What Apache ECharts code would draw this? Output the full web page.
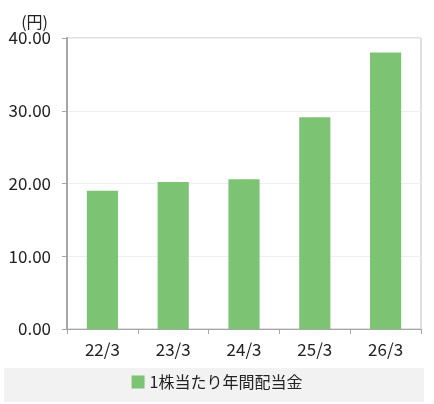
<!DOCTYPE html>
<html>
<head>
<meta charset="utf-8">
<script src="https://cdn.jsdelivr.net/npm/echarts@6/dist/echarts.min.js"></script>
<style>
html, body { margin: 0; padding: 0; background: #fff; }
#chart { width: 434px; height: 404px; }
</style>
</head>
<body>
<div id="chart"></div>
<script>
// values
const categories = ['22/3', '23/3', '24/3', '25/3', '26/3']
const dividend = [19.0, 20.2, 20.6, 29.1, 38.0]
const seriesName = '1株当たり年間配当金'
const unitLabel = '(円)'

const FONT = '"Noto Sans CJK JP", "Noto Sans", sans-serif'
const GREEN = '#7dc374'
const AXIS = '#a6a6a6'

const chart = echarts.init(document.getElementById('chart'))

const option = {
  animation: false,
  textStyle: { fontFamily: FONT },
  grid: {
    left: 67,
    right: 13,
    top: 38,
    bottom: 75,
    show: true,
    borderColor: '#c0c0c0',
    borderWidth: 1
  },
  graphic: [{
    type: 'rect',
    left: 4,
    top: 368,
    shape: { width: 420, height: 34 },
    style: { fill: '#f2f2f2' },
    z: -1
  }],
  legend: {
    bottom: 9,
    left: 'center',
    itemWidth: 13,
    itemHeight: 13,
    itemGap: 4,
    icon: 'rect',
    textStyle: { fontFamily: FONT, fontSize: 16, color: '#222' },
    data: [seriesName]
  },
  xAxis: [{
    type: 'category',
    data: categories,
    axisLine: { lineStyle: { color: AXIS, width: 1 } },
    axisTick: { show: true, length: 5, lineStyle: { color: AXIS } },
    axisLabel: { color: '#222', fontSize: 17, fontFamily: FONT, margin: 12 }
  }],
  yAxis: [{
    type: 'value',
    min: 0,
    max: 40,
    interval: 10,
    name: unitLabel,
    nameLocation: 'end',
    nameGap: 7,
    nameTextStyle: { color: '#222', fontSize: 16, fontFamily: FONT, align: 'right', padding: [0, 19, 0, 0] },
    axisLine: { show: true, lineStyle: { color: AXIS, width: 2 } },
    axisTick: { show: true, length: 5, lineStyle: { color: AXIS } },
    splitLine: { lineStyle: { color: '#efefef' } },
    axisLabel: {
      color: '#222',
      fontSize: 17,
      fontFamily: FONT,
      margin: 16,
      formatter: v => v.toFixed(2)
    }
  }],
  series: [{
    name: seriesName,
    type: 'bar',
    data: dividend,
    barWidth: '44%',
    itemStyle: { color: GREEN }
  }]
}

chart.setOption(option)
</script>
</body>
</html>
